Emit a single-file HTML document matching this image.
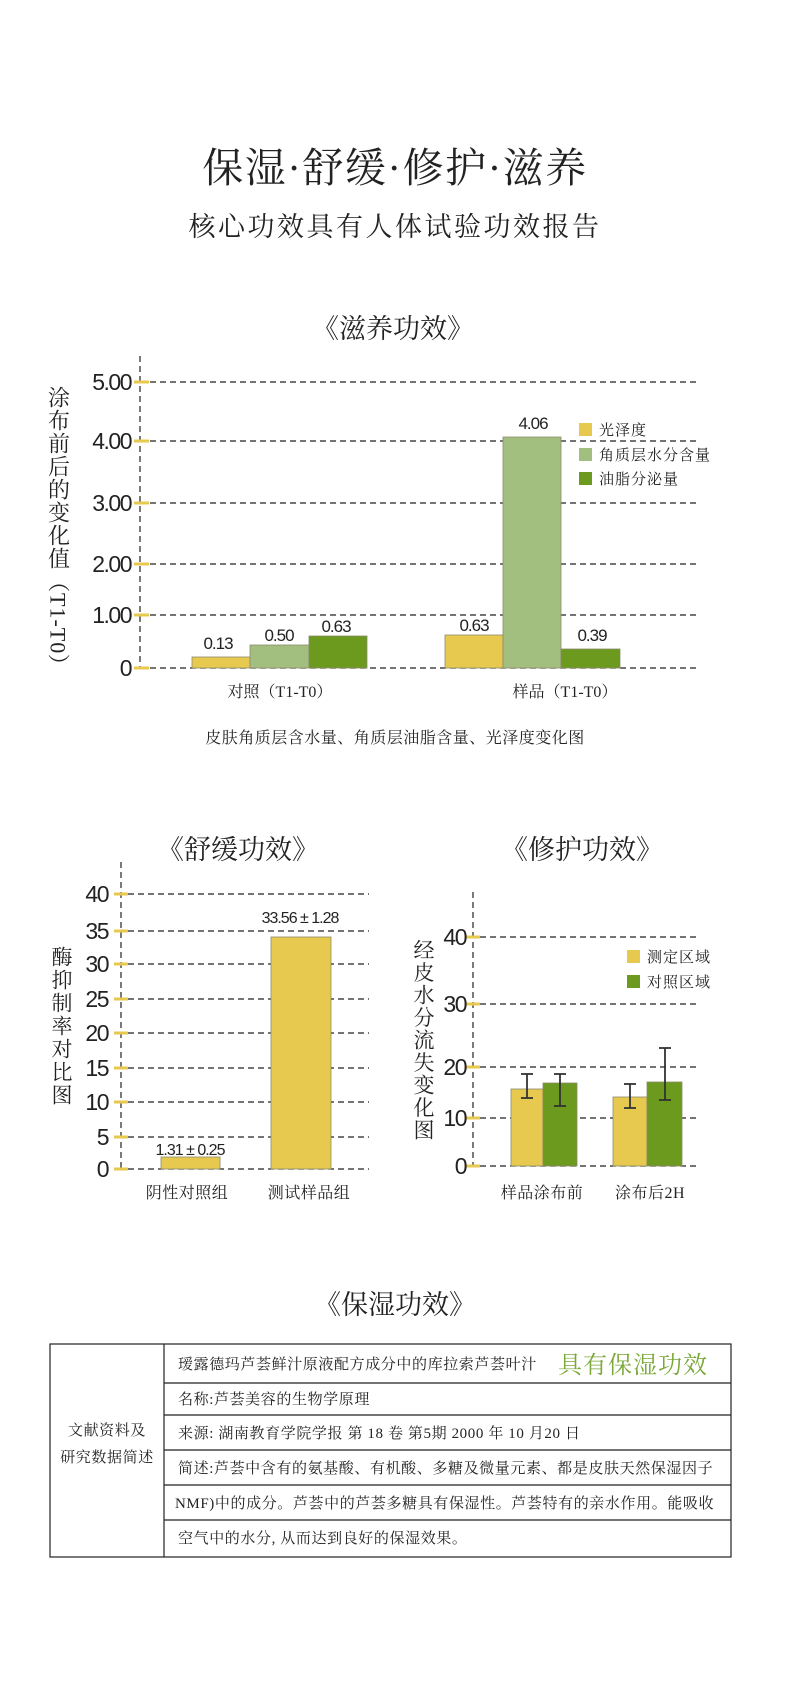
<!DOCTYPE html>
<html><head><meta charset="utf-8"><style>
html,body{margin:0;padding:0;background:#fff;}
svg{display:block;}
.cn{font-family:"Liberation Serif","Noto Serif CJK SC",serif;fill:#222;}
.num{font-family:"Liberation Sans Narrow","Liberation Sans",sans-serif;fill:#222;}
.vt{writing-mode:vertical-rl;text-orientation:mixed;}
</style></head><body>
<svg width="790" height="1694" viewBox="0 0 790 1694" xmlns="http://www.w3.org/2000/svg">
<rect width="790" height="1694" fill="#fff"/>
<!-- Titles -->
<text class="cn" x="395" y="182" font-size="41" text-anchor="middle" letter-spacing="1.5">保湿·舒缓·修护·滋养</text>
<text class="cn" x="395" y="236" font-size="27" text-anchor="middle" letter-spacing="2.5">核心功效具有人体试验功效报告</text>
<text class="cn" x="393" y="338" font-size="27" text-anchor="middle">《滋养功效》</text>

<!-- Chart 1 -->
<g stroke="#222" stroke-width="1.2" stroke-dasharray="6 4" fill="none">
<line x1="140" y1="356" x2="140" y2="668"/>
<line x1="150" y1="382" x2="696" y2="382"/>
<line x1="150" y1="441" x2="696" y2="441"/>
<line x1="150" y1="503" x2="696" y2="503"/>
<line x1="150" y1="564" x2="696" y2="564"/>
<line x1="150" y1="615" x2="696" y2="615"/>
<line x1="150" y1="668" x2="696" y2="668"/>
</g>
<g stroke="#e8c94f" stroke-width="3">
<line x1="134" y1="382" x2="149" y2="382"/><line x1="134" y1="441" x2="149" y2="441"/>
<line x1="134" y1="503" x2="149" y2="503"/><line x1="134" y1="564" x2="149" y2="564"/>
<line x1="134" y1="615" x2="149" y2="615"/><line x1="134" y1="668" x2="149" y2="668"/>
</g>
<g class="num" font-size="23" text-anchor="end" letter-spacing="-1.5">
<text x="131" y="390">5.00</text><text x="131" y="449">4.00</text><text x="131" y="511">3.00</text>
<text x="131" y="572">2.00</text><text x="131" y="623">1.00</text><text x="131" y="676">0</text>
</g>
<g stroke="#8a8a6a" stroke-width="0.8">
<rect x="192" y="657" width="58" height="11" fill="#e8c94f"/>
<rect x="250" y="645" width="59" height="23" fill="#a3bf7f"/>
<rect x="309" y="636" width="58" height="32" fill="#6b9a1e"/>
<rect x="445" y="635" width="58" height="33" fill="#e8c94f"/>
<rect x="503" y="437" width="58" height="231" fill="#a3bf7f"/>
<rect x="561" y="649" width="59" height="19" fill="#6b9a1e"/>
</g>
<g class="num" font-size="17" text-anchor="middle" letter-spacing="-1">
<text x="218" y="649">0.13</text><text x="279" y="641">0.50</text><text x="336" y="632">0.63</text>
<text x="474" y="631">0.63</text><text x="533" y="429">4.06</text><text x="592" y="641">0.39</text>
</g>
<rect x="579" y="423" width="13" height="13" fill="#e8c94f"/>
<rect x="579" y="448" width="13" height="13" fill="#a3bf7f"/>
<rect x="579" y="472" width="13" height="13" fill="#6b9a1e"/>
<g class="cn" font-size="15" letter-spacing="1">
<text x="599" y="435">光泽度</text><text x="599" y="460">角质层水分含量</text><text x="599" y="484">油脂分泌量</text>
</g>
<text class="cn vt" x="58" y="386" font-size="22" letter-spacing="1">涂布前后的变化值（T1-T0）</text>
<g class="cn" font-size="16" text-anchor="middle">
<text x="280" y="697">对照（T1-T0）</text><text x="565" y="697">样品（T1-T0）</text>
</g>
<text class="cn" x="395" y="743" font-size="16" text-anchor="middle" letter-spacing="0.5">皮肤角质层含水量、角质层油脂含量、光泽度变化图</text>

<!-- Section titles -->
<text class="cn" x="238" y="859" font-size="27" text-anchor="middle">《舒缓功效》</text>
<text class="cn" x="582" y="859" font-size="27" text-anchor="middle">《修护功效》</text>

<!-- Chart 2 left -->
<g stroke="#222" stroke-width="1.2" stroke-dasharray="6 4" fill="none">
<line x1="121" y1="862" x2="121" y2="1169"/>
<line x1="128" y1="894" x2="369" y2="894"/><line x1="128" y1="931" x2="369" y2="931"/>
<line x1="128" y1="964" x2="369" y2="964"/><line x1="128" y1="999" x2="369" y2="999"/>
<line x1="128" y1="1033" x2="369" y2="1033"/><line x1="128" y1="1068" x2="369" y2="1068"/>
<line x1="128" y1="1102" x2="369" y2="1102"/><line x1="128" y1="1137" x2="369" y2="1137"/>
<line x1="128" y1="1169" x2="369" y2="1169"/>
</g>
<g stroke="#e8c94f" stroke-width="3">
<line x1="114" y1="894" x2="128" y2="894"/><line x1="114" y1="931" x2="128" y2="931"/>
<line x1="114" y1="964" x2="128" y2="964"/><line x1="114" y1="999" x2="128" y2="999"/>
<line x1="114" y1="1033" x2="128" y2="1033"/><line x1="114" y1="1068" x2="128" y2="1068"/>
<line x1="114" y1="1102" x2="128" y2="1102"/><line x1="114" y1="1137" x2="128" y2="1137"/>
<line x1="114" y1="1169" x2="128" y2="1169"/>
</g>
<g class="num" font-size="23" text-anchor="end" letter-spacing="-1.5">
<text x="108" y="902">40</text><text x="108" y="939">35</text><text x="108" y="972">30</text>
<text x="108" y="1007">25</text><text x="108" y="1041">20</text><text x="108" y="1076">15</text>
<text x="108" y="1110">10</text><text x="108" y="1145">5</text><text x="108" y="1177">0</text>
</g>
<g stroke="#8a8a6a" stroke-width="0.8" fill="#e8c94f">
<rect x="161" y="1157" width="59" height="12"/>
<rect x="271" y="937" width="60" height="232"/>
</g>
<g class="num" font-size="16" text-anchor="middle" letter-spacing="-1">
<text x="300" y="923">33.56 ± 1.28</text><text x="190" y="1155">1.31 ± 0.25</text>
</g>
<g class="cn" font-size="16" text-anchor="middle" letter-spacing="0.5">
<text x="187" y="1198">阴性对照组</text><text x="309" y="1198">测试样品组</text>
</g>
<text class="cn vt" x="61" y="946" font-size="21" letter-spacing="2">酶抑制率对比图</text>

<!-- Chart 2 right -->
<g stroke="#222" stroke-width="1.2" stroke-dasharray="6 4" fill="none">
<line x1="473" y1="892" x2="473" y2="1166"/>
<line x1="480" y1="937" x2="700" y2="937"/><line x1="480" y1="1004" x2="700" y2="1004"/>
<line x1="480" y1="1067" x2="700" y2="1067"/><line x1="480" y1="1118" x2="700" y2="1118"/>
<line x1="480" y1="1166" x2="700" y2="1166"/>
</g>
<g stroke="#e8c94f" stroke-width="3">
<line x1="466" y1="937" x2="480" y2="937"/><line x1="466" y1="1004" x2="480" y2="1004"/>
<line x1="466" y1="1067" x2="480" y2="1067"/><line x1="466" y1="1118" x2="480" y2="1118"/>
<line x1="466" y1="1166" x2="480" y2="1166"/>
</g>
<g class="num" font-size="23" text-anchor="end" letter-spacing="-1.5">
<text x="466" y="945">40</text><text x="466" y="1012">30</text><text x="466" y="1075">20</text>
<text x="466" y="1126">10</text><text x="466" y="1174">0</text>
</g>
<g stroke="#8a8a6a" stroke-width="0.8">
<rect x="511" y="1089" width="32" height="77" fill="#e8c94f"/>
<rect x="543" y="1083" width="34" height="83" fill="#6b9a1e"/>
<rect x="613" y="1097" width="34" height="69" fill="#e8c94f"/>
<rect x="647" y="1082" width="35" height="84" fill="#6b9a1e"/>
</g>
<g stroke="#333" stroke-width="1.8">
<line x1="527" y1="1074" x2="527" y2="1098"/><line x1="521" y1="1074" x2="533" y2="1074"/><line x1="521" y1="1098" x2="533" y2="1098"/>
<line x1="560" y1="1074" x2="560" y2="1106"/><line x1="554" y1="1074" x2="566" y2="1074"/><line x1="554" y1="1106" x2="566" y2="1106"/>
<line x1="630" y1="1084" x2="630" y2="1108"/><line x1="624" y1="1084" x2="636" y2="1084"/><line x1="624" y1="1108" x2="636" y2="1108"/>
<line x1="665" y1="1048" x2="665" y2="1100"/><line x1="659" y1="1048" x2="671" y2="1048"/><line x1="659" y1="1100" x2="671" y2="1100"/>
</g>
<rect x="627" y="950" width="13" height="13" fill="#e8c94f"/>
<rect x="627" y="975" width="13" height="13" fill="#6b9a1e"/>
<g class="cn" font-size="15" letter-spacing="1">
<text x="647" y="962">测定区域</text><text x="647" y="987">对照区域</text>
</g>
<text class="cn vt" x="423" y="939" font-size="21" letter-spacing="1.5">经皮水分流失变化图</text>
<g class="cn" font-size="16" text-anchor="middle" letter-spacing="0.5">
<text x="542" y="1198">样品涂布前</text><text x="650" y="1198">涂布后2H</text>
</g>

<!-- Section 3 -->
<text class="cn" x="395" y="1314" font-size="27" text-anchor="middle">《保湿功效》</text>
<g stroke="#222" stroke-width="1.2" fill="none">
<rect x="50" y="1344" width="681" height="213"/>
<line x1="164" y1="1344" x2="164" y2="1557"/>
<line x1="164" y1="1383" x2="731" y2="1383"/>
<line x1="164" y1="1415" x2="731" y2="1415"/>
<line x1="164" y1="1450" x2="731" y2="1450"/>
<line x1="164" y1="1485" x2="731" y2="1485"/>
<line x1="164" y1="1520" x2="731" y2="1520"/>
</g>
<g class="cn" font-size="15" letter-spacing="0.6">
<text x="178" y="1369">瑷露德玛芦荟鲜汁原液配方成分中的库拉索芦荟叶汁</text>
<text x="178" y="1404">名称:芦荟美容的生物学原理</text>
<text x="178" y="1438">来源: 湖南教育学院学报 第 18 卷 第5期 2000 年 10 月20 日</text>
<text x="178" y="1473">简述:芦荟中含有的氨基酸、有机酸、多糖及微量元素、都是皮肤天然保湿因子</text>
<text x="175" y="1508">NMF)中的成分。芦荟中的芦荟多糖具有保湿性。芦荟特有的亲水作用。能吸收</text>
<text x="178" y="1543">空气中的水分, 从而达到良好的保湿效果。</text>
<text x="107" y="1435" text-anchor="middle">文献资料及</text>
<text x="107" y="1462" text-anchor="middle">研究数据简述</text>
</g>
<text class="cn" x="558" y="1373" font-size="24" style="fill:#7aa838" letter-spacing="1">具有保湿功效</text>
</svg>
</body></html>
